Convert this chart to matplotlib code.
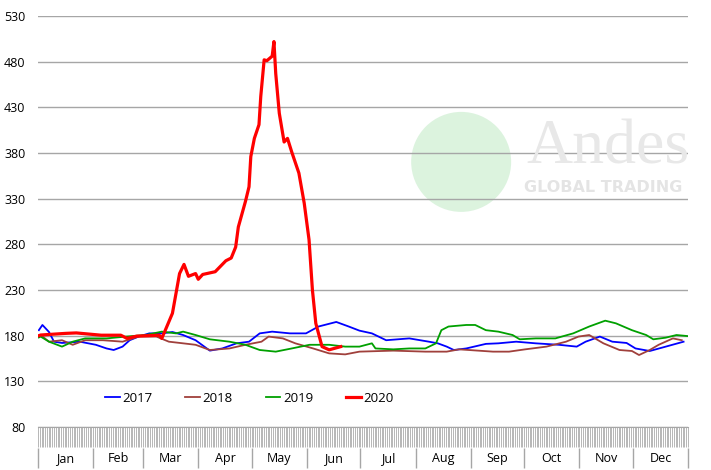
import numpy as np
import matplotlib
matplotlib.use('Agg')
import matplotlib.pyplot as plt
from matplotlib.patches import Ellipse

# Day-of-year / value pairs.
days_2017 = [1, 3, 6.7, 9.5, 14, 24, 33, 39, 43, 48, 52, 57, 63, 70, 76, 82, 89, 97,
             104, 112, 119, 125, 132, 142, 151, 158, 168, 175, 181, 188, 196, 209,
             220, 225, 230, 234, 241, 252, 259, 269, 280, 293, 303, 308, 316, 323,
             331, 336, 344, 353, 363]
vals_2017 = [186, 191.7, 184, 173.4, 172, 173.4, 170, 166, 164.3, 168, 175, 179, 182.5,
             182.5, 184, 180.7, 175, 163.6, 166, 171.6, 173.4, 182.5, 184.4, 182.5,
             182.5, 190, 195, 190, 185.5, 182.5, 175, 177, 173.4, 171.6, 168, 164.3,
             166, 171, 171.6, 173.4, 171.6, 170, 168, 173.4, 179, 173.4, 172, 166,
             163.2, 168, 173.4]

days_2018 = [1, 2, 6.7, 14, 20, 27, 37, 48, 57, 67, 74, 82, 89, 97, 108, 117, 126,
             130, 138, 145, 155, 164, 173, 181, 200, 218, 230, 237, 256, 265, 274,
             286, 297, 304, 310, 318, 327, 334, 338, 344, 349, 357, 362]
vals_2018 = [180, 180.7, 173.4, 175, 170, 175, 175, 173.4, 179, 179, 173.4, 171.6, 170,
             164.3, 166, 170, 173.4, 179, 177, 171.6, 166, 160.6, 159.5, 162.5, 163.6,
             162.5, 162.5, 165, 162.5, 162.5, 165, 168, 173.4, 179, 180.7, 171.6,
             164.3, 163.2, 158.8, 164.3, 170, 177, 175]

days_2019 = [1, 2, 6.7, 14, 20, 27, 39, 50, 61, 70, 78, 82, 89, 97, 108, 117, 125,
             134, 143, 153, 164, 173, 181, 188, 190, 200, 209, 218, 224, 227, 231,
             241, 246, 252, 259, 267, 271, 280, 291, 301, 310, 319, 325, 334, 342,
             346, 353, 359, 365]
vals_2019 = [178, 179, 173.4, 168, 173.4, 177, 177, 179, 180.7, 184.4, 182.5, 184.4,
             180.7, 176, 173.4, 170, 164.3, 162.5, 166, 170, 170, 168, 168, 171.6,
             166, 165, 166, 166, 171.6, 186, 190, 191.7, 191.7, 186, 184.4, 180.7,
             176, 177, 177, 182.5, 190, 196.4, 193.5, 186, 180.7, 176, 177.8, 180.7,
             179.6]

days_2020 = [1, 2, 16, 22, 36, 47, 50.5, 56, 68.6, 70, 72, 76, 80, 82.5, 85, 89,
             90.5, 93, 100, 106, 109, 111.5, 113, 117, 119, 120, 122, 124.6, 125.6,
             127.5, 129, 132, 133, 134, 136, 138.7, 140.6, 143, 147, 150, 152.7,
             154.6, 156.5, 160, 164, 170.5]
vals_2020 = [180, 180.7, 182.5, 183, 180.5, 180.5, 177, 179.5, 180.5, 177, 186, 204.5,
             248, 258, 245, 248, 241.7, 247, 250, 262, 265, 277, 299, 327, 343, 376,
             396, 411, 442, 482, 481, 486, 502, 467, 423.5, 392, 396, 381, 358, 325,
             285, 230, 193.5, 168, 164.5, 168]

years = ['2017', '2018', '2019', '2020']
colors = ['#0000ff', '#a0403c', '#00a000', '#ff0000']
months = ['Jan', 'Feb', 'Mar', 'Apr', 'May', 'Jun', 'Jul', 'Aug', 'Sep', 'Oct', 'Nov', 'Dec']
month_len = [31, 28, 31, 30, 31, 30, 31, 31, 30, 31, 30, 31]

plt.rcParams['font.family'] = ['Open Sans', 'DejaVu Sans']

fig = plt.figure(figsize=(7.11, 4.7), dpi=100)
ax = fig.add_axes([0.0534, 0.0915, 0.9143, 0.8745])

# faint watermark logo: globe sits under the gridlines
ax.add_patch(Ellipse((0.651, 0.645), 0.1538, 0.2433, transform=ax.transAxes,
                     facecolor='#d6f1d9', edgecolor='none', alpha=0.85, zorder=0.2))
fig.text(526 / 711, 1 - 163 / 470, 'Andes', fontsize=46, family='Liberation Serif',
         color='#e8e8e8', zorder=0)
fig.text(524 / 711, 1 - 188 / 470, 'GLOBAL TRADING', fontsize=11.5,
         family='DejaVu Sans', color='#e4e4e4', fontweight='bold', va='center', zorder=0)

series = [(days_2017, vals_2017), (days_2018, vals_2018), (days_2019, vals_2019),
          (days_2020, vals_2020)]
for (d, v), yr, c in zip(series, years, colors):
    lw = 2.3 if yr == '2020' else 1.3
    ax.plot(d, v, color=c, lw=lw, label=yr, zorder=3)

ax.set_xlim(0.5, 365.5)
ax.set_ylim(80, 530)
ax.set_yticks(np.arange(80, 531, 50))
ax.yaxis.grid(True, color='#a6a6a6', lw=1)
ax.set_axisbelow(True)
for s in ['top', 'right', 'left']:
    ax.spines[s].set_visible(False)
ax.spines['bottom'].set_color('#a6a6a6')
ax.tick_params(axis='y', length=0, labelsize=9, pad=9)

# one tick per day, drawn as a dense strip under the axis
ax.set_xticks(np.arange(0.5, 366, 1))
ax.tick_params(axis='x', length=14.5, width=0.5, color='#9a9a9a', labelbottom=False)

# month boxes
edges = np.concatenate([[0], np.cumsum(month_len)]) + 0.5
trans = ax.get_xaxis_transform()
ax.vlines(edges, -0.0999, -0.051, transform=trans, color='#a6a6a6', lw=1, clip_on=False)
for i, m in enumerate(months):
    ax.text((edges[i] + edges[i + 1]) / 2, -0.076, m, transform=trans, ha='center',
            va='center', fontsize=9)

ax.legend(loc='center left', bbox_to_anchor=(0.085, 0.07), ncol=4, frameon=False,
          fontsize=9.5, handlelength=1.1, handletextpad=0.2, columnspacing=2.5)

fig.savefig('out.png', dpi=100)
